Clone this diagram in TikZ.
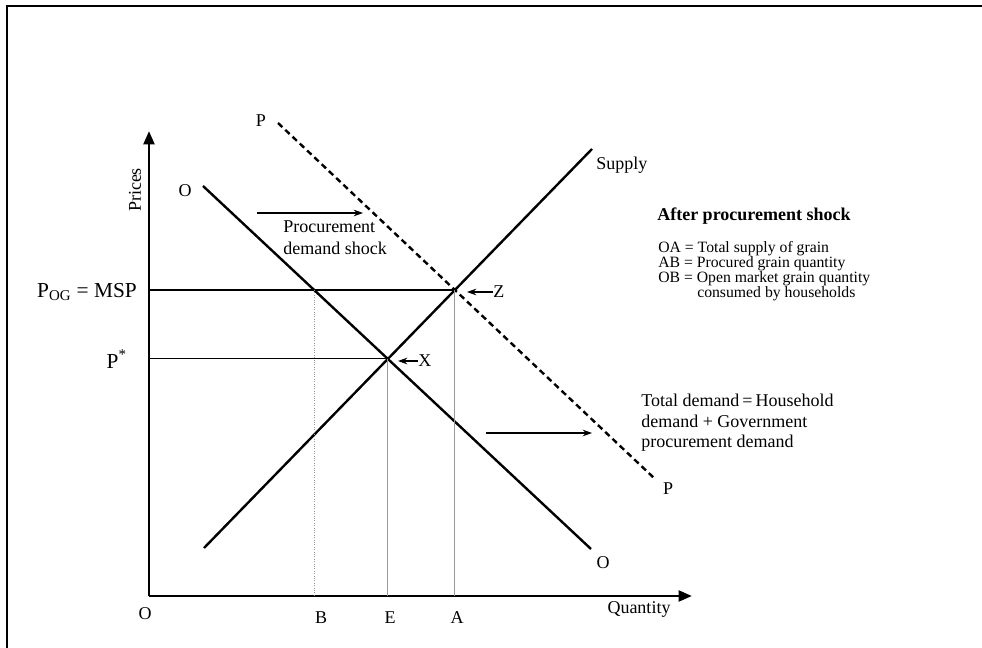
\documentclass[tikz,border=0pt]{standalone}
\usepackage{fontspec}
\setmainfont{Liberation Serif}
\usetikzlibrary{arrows.meta,intersections}
\begin{document}
\begin{tikzpicture}[x=0.75pt,y=-0.75pt,
  frame/.style={line width=1.4pt},
  axis/.style={line width=2.2pt,-{Triangle[length=10pt,width=8pt]}},
  curve/.style={line width=1.8pt},
  dcurve/.style={line width=1.8pt,dash pattern=on 4.5pt off 3pt},
  guide/.style={line width=0.8pt},
  drop/.style={line width=0.8pt,black!40},
  ddrop/.style={line width=0.8pt,black!40,densely dotted},
  tip/.style={line width=0.8pt,-{Stealth[length=7pt,width=5pt]}},
  lbl/.style={font=\fontsize{13.5}{15}\selectfont,inner sep=0pt},
  big/.style={font=\fontsize{16}{18}\selectfont,inner sep=0pt},
  txt/.style={font=\fontsize{13.5}{15.5}\selectfont,inner sep=0pt,align=left},
  ttl/.style={font=\fontsize{13.5}{15}\selectfont\bfseries,inner sep=0pt},
  leg/.style={font=\fontsize{11.8}{11.25}\selectfont,inner sep=0pt}]
\useasboundingbox (0,0) rectangle (982,648);
% frame
\coordinate (fbl) at (7,648);
\coordinate (ftl) at (7,6);
\coordinate (ftr) at (982,6);
\draw[frame] (fbl) -- (ftl) -- (ftr);
% axes
\coordinate (orig) at (149,596);
\coordinate (ytop) at (149,131);
\coordinate (xend) at (692,596);
\draw[axis] (orig) -- (ytop);
\draw[axis] (orig) -- (xend);
% curves
\coordinate (d1) at (203,186);
\coordinate (d2) at (591,549);
\coordinate (s1) at (204,548);
\coordinate (s2) at (592,149);
\coordinate (p1) at (278,123);
\coordinate (p2) at (654,478);
\draw[curve,name path=dem] (d1) -- (d2);
\draw[curve,name path=sup] (s1) -- (s2);
\draw[dcurve,name path=pp] (p1) -- (p2);
\path[name intersections={of=dem and sup,by=X}];
\path[name intersections={of=sup and pp,by=Z}];
\coordinate (ymsp) at (orig |- Z);
\coordinate (ystar) at (orig |- X);
\path[name path=msp] (ymsp) -- (Z);
\path[name intersections={of=dem and msp,by=Bp}];
\draw[guide] (ymsp) -- (Z);
\draw[guide] (ystar) -- (X);
\draw[ddrop] (Bp) -- (Bp |- orig);
\draw[drop] (X) -- (X |- orig);
\draw[drop] (Z) -- (Z |- orig);
% axis labels
\node[lbl,rotate=90] (prices) at (135,190) {Prices};
\node[lbl] (quant) at (639,609) {Quantity};
\node[lbl] (lO) at (145,614) {O};
\node[lbl] (lB) at (321,618) {B};
\node[lbl] (lE) at (390,618) {E};
\node[lbl] (lA) at (457,618) {A};
\node[big,anchor=east] (lmsp) at (137,292) {P\textsubscript{OG} = MSP};
\node[big,anchor=east] (lstar) at (127,359) {P\textsuperscript{*}};
% curve labels
\node[lbl] (dO1) at (185,191) {O};
\node[lbl] (dO2) at (603,563) {O};
\node[lbl] (pP1) at (261,121) {P};
\node[lbl] (pP2) at (668,489) {P};
\node[lbl,anchor=west] (supl) at (596,165) {Supply};
% point labels
\node[lbl,anchor=west] (lZ) at (493,292) {Z};
\node[lbl,anchor=west] (lX) at (418,361) {X};
\coordinate (zt) at (467,292);
\coordinate (xt) at (398,361);
\draw[tip] (lZ.west) -- (zt);
\draw[tip] (lX.west) -- (xt);
% shock arrows
\coordinate (sa1) at (257,213);
\coordinate (sa2) at (363,213);
\draw[tip] (sa1) -- (sa2);
\node[txt,anchor=base west] (shock) at (283,255) {Procurement\\[1pt]demand shock};
\coordinate (ta1) at (486,433);
\coordinate (ta2) at (592,433);
\draw[tip] (ta1) -- (ta2);
\node[txt,anchor=base west] (tot) at (641,448) {Total demand\,=\,Household\\demand + Government\\procurement demand};
% legend
\node[ttl,anchor=base west] (title) at (657,221) {After procurement shock};
\node[leg,anchor=base west] (l1) at (658,253) {OA = Total supply of grain};
\node[leg,anchor=base west] (l2) at (658,268) {AB = Procured grain quantity};
\node[leg,anchor=base west] (l3) at (658,283) {OB = Open market grain quantity};
\node[leg,anchor=base west] (l4) at (697,298) {consumed by households};
\end{tikzpicture}
\end{document}
